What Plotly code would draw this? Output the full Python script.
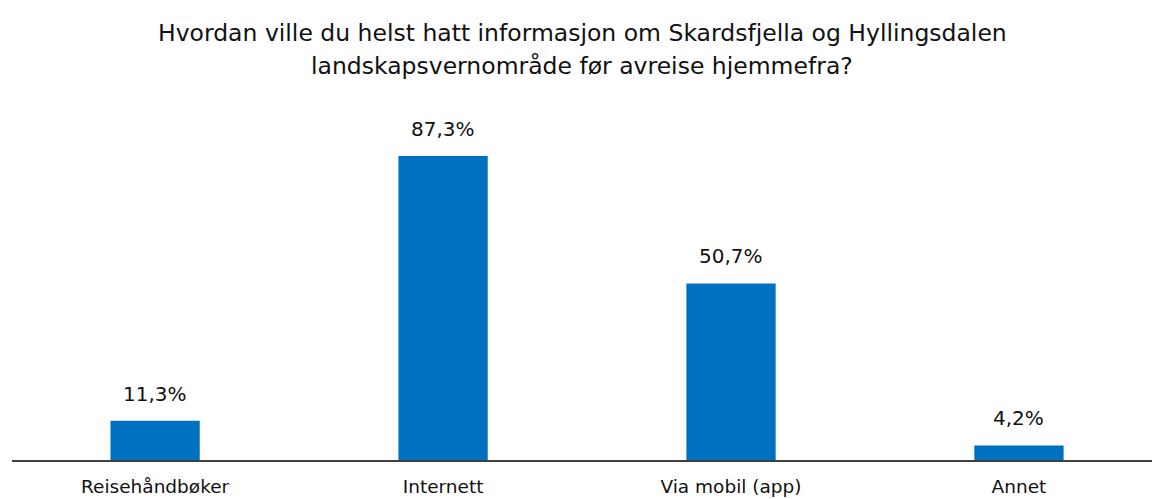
import plotly.graph_objects as go

categories = ["Reisehåndbøker", "Internett", "Via mobil (app)", "Annet"]
values = [11.3, 87.3, 50.7, 4.2]
value_labels = ["11,3%", "87,3%", "50,7%", "4,2%"]

title_lines = [
    "Hvordan ville du helst hatt informasjon om Skardsfjella og Hyllingsdalen",
    "landskapsvernområde før avreise hjemmefra?",
]

FONT = "DejaVu Sans, sans-serif"
TEXT_COLOR = "#111111"

fig = go.Figure(
    go.Bar(
        x=categories,
        y=values,
        marker=dict(color="#0070C0", line=dict(width=0)),
        width=0.31,
        hoverinfo="skip",
    )
)

# value labels above each bar
for cat, val, lab in zip(categories, values, value_labels):
    fig.add_annotation(
        x=cat, y=val, xref="x", yref="y",
        text=lab, showarrow=False,
        yanchor="bottom", yshift=13,
        font=dict(size=20, color=TEXT_COLOR, family=FONT),
    )

# two-line centred heading
for line, ypos in zip(title_lines, [1.186, 1.094]):
    fig.add_annotation(
        x=0.5, y=ypos, xref="paper", yref="paper",
        text=line, showarrow=False,
        xanchor="center", yanchor="middle",
        font=dict(size=23.5, color=TEXT_COLOR, family=FONT),
    )

fig.update_layout(
    width=1152,
    height=499,
    margin=dict(l=12, r=0, t=100, b=39),
    paper_bgcolor="white",
    plot_bgcolor="white",
    showlegend=False,
    font=dict(family=FONT, color=TEXT_COLOR),
)

fig.update_xaxes(
    range=[-0.497, 3.462],
    showline=True,
    linecolor="#404040",
    linewidth=2,
    ticks="",
    ticklabelstandoff=9,
    tickfont=dict(size=18.5, color=TEXT_COLOR, family=FONT),
    showgrid=False,
)
fig.update_yaxes(
    range=[0, 103.4],
    visible=False,
    showgrid=False,
)

fig.write_html("out.html")
